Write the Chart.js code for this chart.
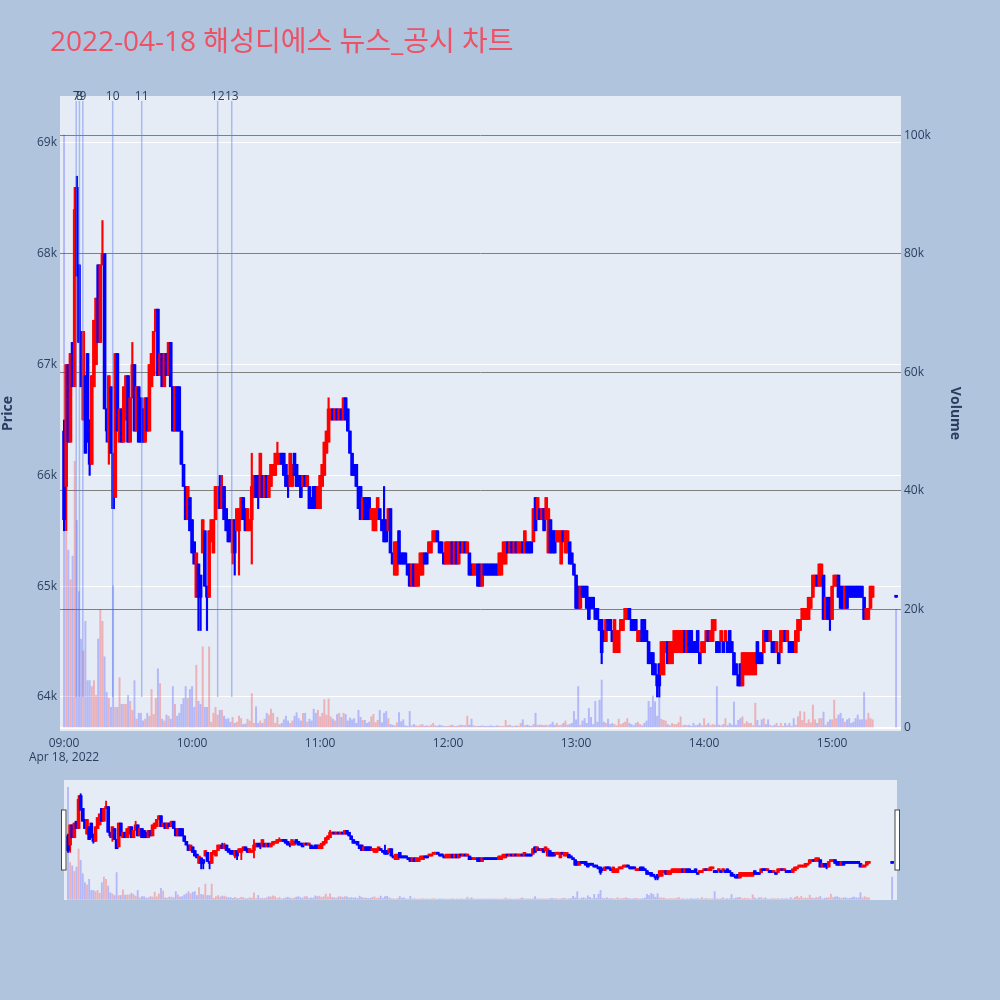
<!DOCTYPE html>
<html>
<head>
<meta charset="utf-8">
<script src="https://cdn.jsdelivr.net/npm/chart.js@4.4.1/dist/chart.umd.min.js"></script>
<style>
  html, body { margin: 0; padding: 0; background: #b0c4de; }
  body { width: 1000px; height: 1000px; position: relative; overflow: hidden; }
  #title {
    position: absolute; left: 50px; top: 26px; z-index: 2;
    font-family: 'Open Sans', 'Noto Sans CJK KR', sans-serif;
    font-size: 28px; line-height: 28px; color: #ef5064; white-space: nowrap;
  }
  #mainBox { position: absolute; left: 0; top: 0; width: 1000px; height: 771px; }
  #sliderBox { position: absolute; left: 56px; top: 776px; width: 850px; height: 130px; }
</style>
</head>
<body>
<div id="title">2022-04-18 해성디에스 뉴스_공시 차트</div>
<div id="mainBox"><canvas id="main"></canvas></div>
<div id="sliderBox"><canvas id="slider"></canvas></div>
<script>
// one candle per minute from 09:00, prices in units of 100 won
// the last entry is the 15:30 closing auction
const dateLabel = 'Apr 18, 2022';
const AUCTION_MINUTE = 390;

const opens = [
  664,659,670,663,672,668,686,679,673,665, 669,671,665,661,668,670,679,672,679,680,
  666,663,668,662,658,671,663,666,663,665, 669,663,667,670,664,668,667,666,663,667,
  664,668,669,673,675,669,671,668,671,669, 672,668,664,668,668,664,661,659,656,658,
  656,654,649,652,651,653,655,650,649,654, 653,656,657,659,657,659,657,656,656,653,
  656,655,655,656,658,657,655,655,656,658, 660,660,658,660,658,660,658,659,660,660,
  661,661,662,662,661,660,659,659,662,661, 660,660,659,660,659,659,658,659,659,657,
  657,659,660,662,663,665,666,665,666,665, 666,665,667,666,664,662,661,661,659,659,
  656,658,658,658,656,655,655,656,657,656, 656,656,655,657,653,651,651,655,653,653,
  653,652,652,650,652,650,650,651,651,653, 653,653,653,654,654,655,654,654,653,652,
  652,652,654,652,654,652,654,653,654,653, 653,652,651,651,652,652,650,652,652,652,
  652,652,652,652,651,651,652,652,654,653, 654,653,654,653,653,654,653,654,654,654,
  654,658,656,657,656,657,656,653,656,655, 655,654,654,652,655,653,653,654,653,652,
  651,650,648,650,650,650,649,649,649,648, 648,647,647,646,645,647,647,646,644,644,
  644,646,646,647,647,648,647,647,647,645, 645,647,647,646,645,644,644,643,642,643,
  642,642,644,645,643,643,644,644,644,644, 644,646,644,646,646,645,645,646,644,644,
  644,645,646,645,645,646,645,645,645,645, 645,645,646,645,644,643,642,643,641,642,
  642,642,642,642,642,645,644,644,644,646, 646,645,645,645,644,644,644,645,646,645,
  645,645,645,644,645,646,647,647,647,647, 648,649,650,651,650,650,651,647,649,649,
  647,650,650,651,650,650,648,650,650,650, 650,650,650,650,650,649,647,647,648,649,
  649
];
const closes = [
  656,670,663,671,668,684,678,672,668,673, 662,663,661,669,674,676,672,679,680,666,
  664,669,662,657,671,664,666,663,668,669, 663,667,670,664,668,663,663,663,667,664,
  670,671,673,675,669,671,668,671,669,672, 668,664,668,664,664,661,659,656,659,655,
  653,652,653,649,649,656,650,649,655,656, 656,659,659,657,659,656,655,654,654,656,
  653,657,657,658,656,655,657,656,659,660, 658,658,662,658,660,658,660,661,661,662,
  662,662,661,660,659,659,662,661,660,659, 659,658,660,659,660,657,657,657,657,659,
  660,661,663,664,666,666,665,666,665,666, 665,667,665,664,662,660,660,659,657,656,
  658,656,656,656,657,657,657,658,656,655, 654,654,657,653,652,654,654,652,652,652,
  652,651,650,652,650,652,652,653,653,652, 652,654,654,655,655,654,653,653,652,654,
  654,654,652,654,652,654,653,654,653,654, 651,651,652,652,650,650,652,651,651,651,
  651,651,651,651,653,653,654,654,653,654, 653,654,653,654,654,653,655,653,653,653,
  657,655,658,656,657,655,658,657,653,653, 653,655,655,655,654,655,655,652,652,651,
  648,648,650,649,649,648,647,648,648,647, 647,646,644,645,647,646,646,645,647,646,
  646,647,647,648,648,647,646,646,646,646, 646,645,645,645,643,643,642,642,641,641,
  645,645,645,643,645,645,646,646,646,646, 646,644,646,644,644,644,644,644,643,645,
  645,646,645,646,647,647,644,644,646,644, 646,644,644,644,642,642,641,641,644,644,
  644,644,644,644,644,643,643,643,646,645, 645,646,644,644,645,643,646,646,645,646,
  644,644,644,646,647,647,648,648,648,649, 649,651,651,650,652,652,647,649,647,647,
  650,651,651,649,648,648,650,648,649,649, 649,649,649,649,649,647,648,648,650,650,
  649
];
// volume in thousands of shares
const volumes = [
  100,33,30,25,29,45,35,23,15,13, 18,8,8,7,8,5.5,15,20,18,12,
  6,5,3.5,24,3.5,3.5,8.5,4,4,4, 5.5,4.5,3,8,1.5,2.5,2.5,1.2,1.5,2.5,
  2,6.5,2.3,5,10,7.5,1.5,1.2,2.2,2, 1.5,7,4,2,2.5,4,5,7,5,6.5,
  7,3.5,10.6,4.5,4,13.7,3.5,3.5,13.7,1, 2.5,3.5,2.2,3,3,2,1.5,1.6,1,1.8,
  0.8,1,2,1.6,0.6,0.7,1.5,1.2,5.8,0.8, 3.6,0.8,1.2,0.8,1.5,2.5,2.2,3.2,2.5,0.8,
  1.8,0.6,0.8,1.4,2,1.2,0.8,1.2,2,2.6, 1.6,1.2,2.5,2.5,1,1.5,1.2,3.2,2.5,3,
  1.9,2.5,4.8,2.2,4.9,1.9,1.5,1.2,2.3,2.5, 1.8,2.5,2.3,1.2,1.7,1.4,1.6,0.8,3,1.8,
  1.3,1.3,0.8,1,1.9,2.3,0.9,1.3,3,0.9, 2.5,2.8,1.6,0.6,0.5,0.4,0.9,2.6,1.1,1.4,
  0.4,0.3,2.8,0.4,0.6,0.4,0.3,0.5,0.6,0.3, 0.4,0.3,0.5,0.8,0.4,0.3,0.5,0.4,0.3,0.3,
  0.3,0.4,0.5,0.3,0.3,0.4,0.5,0.4,0.4,2, 0.5,1.5,0.4,0.3,0.3,0.3,0.4,0.3,0.3,0.3,
  0.4,0.3,0.3,0.4,0.3,0.3,0.3,1.3,0.4,0.5, 0.3,0.3,0.4,0.3,0.8,1.4,0.4,0.5,0.4,0.3,
  0.6,2.5,0.5,0.5,0.5,0.4,0.5,0.4,0.6,1, 0.5,0.8,0.4,0.5,0.8,1.2,0.5,0.6,0.8,2.8,
  1.4,7,0.5,1.2,1.6,0.8,3.3,1.8,0.6,4.5, 1,4.7,8.1,1,0.8,1.5,0.6,0.8,0.6,0.4,
  1.5,0.6,0.8,1,1.6,0.8,0.6,0.4,0.8,1, 0.6,0.4,0.8,1.2,4.5,3.5,5.4,4.4,2,5.2,
  1.5,1.3,1.2,0.6,0.4,0.8,0.6,0.6,0.9,1.9, 0.4,0.5,0.4,0.5,0.3,0.8,0.4,0.5,0.8,0.4,
  1.6,0.5,0.8,0.4,0.6,0.5,7,0.5,0.4,0.6, 1.6,0.4,0.8,0.5,4.4,0.5,1.3,1.6,1.9,0.7,
  1.1,0.8,0.8,0.4,4.2,1.3,0.4,1.4,1.6,0.6, 1.4,0.5,0.3,0.5,0.8,0.3,0.8,0.3,0.8,0.4,
  0.8,0.3,1.6,0.5,1.9,2.8,1.3,2.7,0.8,1.4, 0.9,3.9,1.4,0.8,1.6,1.6,2.7,0.5,1,1.4,
  1.4,4.7,1.6,2.2,2.5,1.6,1,1.4,1.6,0.8, 1,1.6,2.2,1.4,1.4,6,1.4,2.5,1.6,1.4,
  20
];
// [candle index, price] where the wick reaches past the body
const highWicks = [[0,665],[5,686],[6,687],[18,683],[32,672],[73,660],[74,660],[88,662],[100,663],[124,667],[150,659]];
const lowWicks = [[0,655],[1,655],[12,660],[20,663],[21,661],[63,646],[64,646],[67,646],[79,652],[80,651],[82,651],
                  [88,652],[91,657],[105,658],[156,651],[252,643],[278,640],[279,640],[359,646]];

// news / disclosure markers (minutes after 09:00)
const newsMinutes = [5.7, 7.2, 8.8, 22.8, 36.4, 72.0, 78.6];
const newsLabels = ['7', '8', '9', '10', '11', '12', '13'];

const hourTicks = [0, 60, 120, 180, 240, 300, 360];
const hourLabels = ['09:00', '10:00', '11:00', '12:00', '13:00', '14:00', '15:00'];
const priceTicks = [64000, 65000, 66000, 67000, 68000, 69000];
const volumeTicks = [0, 20000, 40000, 60000, 80000, 100000];

const UP = '#ff0000', DOWN = '#0000ff';
const UP_VOL = 'rgba(255,0,0,0.25)', DOWN_VOL = 'rgba(0,0,255,0.22)';
const TEXT = '#2a3f5f';
const FONT = "'Open Sans', 'Noto Sans CJK KR', sans-serif";
Chart.defaults.font.family = FONT;
Chart.defaults.color = TEXT;

const hiMap = new Map(highWicks), loMap = new Map(lowWicks);
const candles = opens.map((o, i) => {
  const c = closes[i];
  return {
    x: i === opens.length - 1 ? AUCTION_MINUTE : i,
    open: o * 100, close: c * 100,
    high: (hiMap.get(i) ?? Math.max(o, c)) * 100,
    low: (loMap.get(i) ?? Math.min(o, c)) * 100,
    vol: volumes[i] * 1000,
    up: c > o
  };
});

function datasets(bodyW, wickW, volW) {
  const col = candles.map(k => k.up ? UP : DOWN);
  return [
    { label: 'body', data: candles.map(k => ({ x: k.x, y: [k.open, k.close] })), backgroundColor: col,
      barThickness: bodyW, minBarLength: 2, grouped: false, yAxisID: 'y', order: 1 },
    { label: 'wick', data: candles.map(k => ({ x: k.x, y: [k.low, k.high] })), backgroundColor: col,
      barThickness: wickW, grouped: false, yAxisID: 'y', order: 2 },
    { label: 'volume', data: candles.map(k => ({ x: k.x, y: k.vol })),
      backgroundColor: candles.map(k => k.up ? UP_VOL : DOWN_VOL),
      barThickness: volW, grouped: false, yAxisID: 'yv', order: 3 }
  ];
}

const plotBg = {
  id: 'plotBg',
  beforeDraw(chart) {
    const { ctx, chartArea: a } = chart;
    ctx.save();
    ctx.fillStyle = '#e5ecf6';
    ctx.fillRect(a.left, a.top, a.right - a.left, a.bottom - a.top);
    ctx.restore();
  }
};

const newsLines = {
  id: 'newsLines',
  afterDatasetsDraw(chart) {
    const { ctx, chartArea: a, scales: { x, y } } = chart;
    const bottom = y.getPixelForValue(64000);
    ctx.save();
    ctx.strokeStyle = 'rgba(95,125,235,0.45)';
    ctx.lineWidth = 1.5;
    newsMinutes.forEach(m => {
      const px = x.getPixelForValue(m);
      ctx.beginPath();
      ctx.moveTo(px, a.top + 5);
      ctx.lineTo(px, bottom);
      ctx.stroke();
    });
    ctx.fillStyle = TEXT;
    ctx.font = '12px ' + FONT;
    ctx.textAlign = 'center';
    ctx.textBaseline = 'middle';
    newsMinutes.forEach((m, i) => ctx.fillText(newsLabels[i], x.getPixelForValue(m), a.top + 1));
    ctx.restore();
  }
};

new Chart(document.getElementById('main'), {
  type: 'bar',
  data: { datasets: datasets(3.0, 1.5, 1.3) },
  plugins: [plotBg, newsLines],
  options: {
    responsive: true, maintainAspectRatio: false, animation: false,
    layout: { padding: { top: 96, right: 37, left: 0, bottom: 0 } },
    plugins: { legend: { display: false }, tooltip: { enabled: false } },
    scales: {
      x: {
        type: 'linear', min: -1.9, max: 392.3, offset: false,
        grid: { display: false, drawTicks: false }, border: { display: false },
        afterBuildTicks: s => { s.ticks = hourTicks.map(v => ({ value: v })); },
        afterFit: s => { s.height = 40; },
        ticks: {
          autoSkip: false, maxRotation: 0, padding: 5, font: { size: 12 },
          callback: (v, i) => i === 0 ? [hourLabels[0], dateLabel] : hourLabels[i]
        }
      },
      y: {
        position: 'left', min: 63693, max: 69424,
        afterBuildTicks: s => { s.ticks = priceTicks.map(v => ({ value: v })); },
        afterFit: s => { s.width = 60; },
        grid: { color: '#ffffff', lineWidth: 1, drawTicks: false }, border: { display: false },
        ticks: { padding: 3, font: { size: 12 }, callback: v => (v / 1000) + 'k' },
        title: { display: true, text: 'Price', font: { size: 14, weight: 'bold' }, padding: { top: 0, bottom: 0 } }
      },
      yv: {
        position: 'right', min: -500, max: 106600,
        afterBuildTicks: s => { s.ticks = volumeTicks.map(v => ({ value: v })); },
        afterFit: s => { s.width = 62; },
        grid: {
          color: c => c.tick && c.tick.value === 0 ? '#ffffff' : '#808080',
          lineWidth: c => c.tick && c.tick.value === 0 ? 2 : 1,
          drawTicks: false
        },
        border: { display: false },
        ticks: { padding: 3, font: { size: 12 }, callback: v => v === 0 ? '0' : (v / 1000) + 'k' },
        title: { display: true, text: 'Volume', font: { size: 14, weight: 'bold' }, padding: { top: 0, bottom: 0 } }
      }
    }
  }
});

const handles = {
  id: 'handles',
  afterDraw(chart) {
    const { ctx, chartArea: a } = chart;
    const mid = (a.top + a.bottom) / 2;
    ctx.save();
    ctx.fillStyle = '#ffffff';
    ctx.strokeStyle = '#444444';
    ctx.lineWidth = 1;
    [a.left - 2.5, a.right - 2].forEach(hx => {
      ctx.fillRect(hx, mid - 30, 4.5, 60);
      ctx.strokeRect(hx, mid - 30, 4.5, 60);
    });
    ctx.restore();
  }
};

new Chart(document.getElementById('slider'), {
  type: 'bar',
  data: { datasets: datasets(3, 1.2, 1.2) },
  plugins: [plotBg, handles],
  options: {
    responsive: true, maintainAspectRatio: false, animation: false,
    layout: { padding: { top: 4, right: 9, left: 8, bottom: 6 } },
    plugins: { legend: { display: false }, tooltip: { enabled: false } },
    scales: {
      x: { type: 'linear', min: -1.9, max: 392.3, offset: false, display: false },
      y: { min: 62900, max: 69450, display: false },
      yv: { min: -500, max: 106600, display: false }
    }
  }
});
</script>
</body>
</html>
